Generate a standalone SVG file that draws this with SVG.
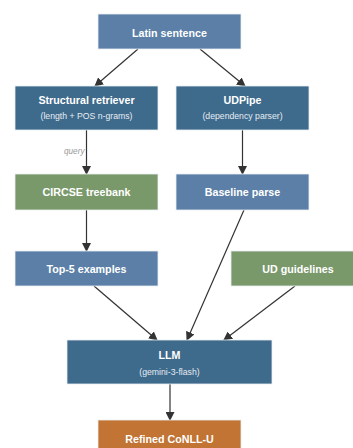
<svg xmlns="http://www.w3.org/2000/svg" width="353" height="448" viewBox="0 0 353 448">
<defs>
<marker id="ah" markerWidth="9" markerHeight="9" refX="8" refY="4.5" orient="auto" markerUnits="userSpaceOnUse">
<path d="M0,0 L9,4.5 L0,9 Z" fill="#333"/>
</marker>
<style>
.box{stroke:#e8edf2;stroke-width:0.8}
.lb{fill:#5b7fa6}
.db{fill:#3e6a8c}
.gr{fill:#7a996b}
.or{fill:#c17433}
.t{font-family:"Liberation Sans",Arial,sans-serif;font-weight:bold;font-size:10.7px;fill:#fff;text-anchor:middle}
.s{font-family:"Liberation Sans",Arial,sans-serif;font-size:8.7px;fill:#e6edf3;text-anchor:middle}
.e{stroke:#333;stroke-width:1.2;fill:none;marker-end:url(#ah)}
.q{font-family:"Liberation Sans",Arial,sans-serif;font-style:italic;font-size:8.2px;fill:#999;text-anchor:end}
</style>
</defs>
<rect width="353" height="448" fill="#fff"/>
<g id="connectors">
<line class="e" x1="138" y1="49" x2="95" y2="86"/>
<line class="e" x1="200" y1="49" x2="245" y2="86"/>
<line class="e" x1="86.5" y1="130" x2="86.5" y2="174"/>
<text class="q" x="84.5" y="153.5">query</text>
<line class="e" x1="242.5" y1="130" x2="242.5" y2="174"/>
<line class="e" x1="86.5" y1="210" x2="86.5" y2="251"/>
<line class="e" x1="244" y1="210" x2="187" y2="340"/>
<line class="e" x1="94" y1="286" x2="157" y2="340"/>
<line class="e" x1="295" y1="286" x2="224" y2="340"/>
<line class="e" x1="170" y1="384" x2="170" y2="420"/>
</g>
<g id="latin">
<rect class="box lb" x="98" y="14" width="143" height="35"/>
<text class="t" x="169.5" y="36.8">Latin sentence</text>
</g>
<g id="retriever">
<rect class="box db" x="15" y="86" width="143" height="44"/>
<text class="t" x="86.5" y="104">Structural retriever</text>
<text class="s" x="86.5" y="119">(length + POS n-grams)</text>
</g>
<g id="udpipe">
<rect class="box db" x="176" y="86" width="133" height="44"/>
<text class="t" x="242.5" y="104">UDPipe</text>
<text class="s" x="242.5" y="119">(dependency parser)</text>
</g>
<g id="circse">
<rect class="box gr" x="15" y="174" width="143" height="36"/>
<text class="t" x="86.5" y="196">CIRCSE treebank</text>
</g>
<g id="baseline">
<rect class="box lb" x="176" y="174" width="133" height="36"/>
<text class="t" x="242.5" y="196">Baseline parse</text>
</g>
<g id="top5">
<rect class="box lb" x="15" y="251" width="143" height="35"/>
<text class="t" x="86.5" y="272.5">Top-5 examples</text>
</g>
<g id="udguide">
<rect class="box gr" x="231" y="251" width="124" height="35"/>
<text class="t" x="298" y="272.5">UD guidelines</text>
</g>
<g id="llm">
<rect class="box db" x="67" y="340" width="205" height="44"/>
<text class="t" x="169.5" y="359">LLM</text>
<text class="s" x="169.5" y="375">(gemini-3-flash)</text>
</g>
<g id="refined">
<rect class="box or" x="98" y="420" width="143" height="34"/>
<text class="t" x="169.5" y="442.5">Refined CoNLL-U</text>
</g>
</svg>
